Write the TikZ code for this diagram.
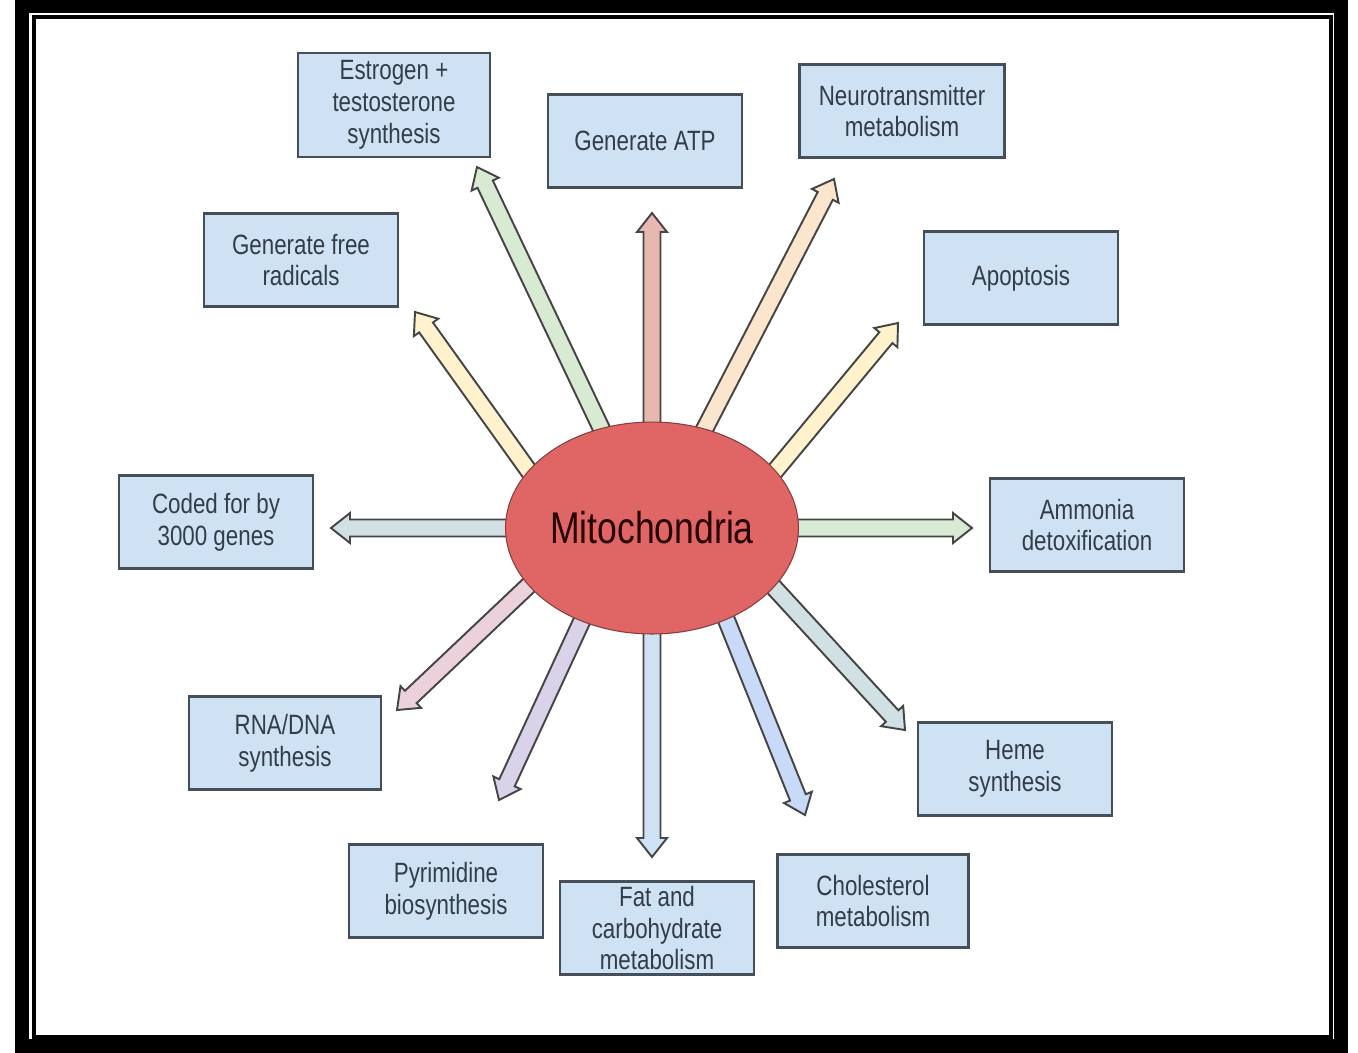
\documentclass[tikz,border=0pt]{standalone}
\usepackage{fontspec}
\setmainfont{Liberation Sans}[FakeStretch=0.8]
\usepackage{tikz}
\usetikzlibrary{shapes.geometric, calc, backgrounds}
\definecolor{boxfill}{HTML}{CFE2F3}
\definecolor{boxline}{HTML}{454F59}
\definecolor{boxtext}{HTML}{333D48}
\definecolor{corered}{HTML}{E06666}
\definecolor{arrowline}{HTML}{454545}
\definecolor{arRed}{HTML}{E6B8AF}
\definecolor{arGreen}{HTML}{D9EAD3}
\definecolor{arOrange}{HTML}{FCE5CD}
\definecolor{arYellow}{HTML}{FFF2CC}
\definecolor{arCyan}{HTML}{D0E0E3}
\definecolor{arPink}{HTML}{EAD1DC}
\definecolor{arPurple}{HTML}{D9D2E9}
\definecolor{arBlue}{HTML}{CFE2F3}
\definecolor{arCorn}{HTML}{C9DAF8}
\tikzset{
    func/.style={rectangle, draw=boxline, line width=1.6pt, fill=boxfill, text=boxtext, align=center, inner sep=0pt, minimum width=3.88cm, minimum height=1.86cm, font=\fontsize{15.9}{18.1}\selectfont},
    core/.style={ellipse, draw=corered!60!black, line width=0.6pt, fill=corered, text=black!85!red, inner sep=0pt, minimum width=5.86cm, minimum height=4.24cm, font=\fontsize{25.3}{30}\selectfont},
    blockarrow/.style={draw=arrowline, line width=1.1pt, line join=miter},
    frame/.style={draw=black}
}
% hollow block arrow: fill colour, from, to
\newcommand{\blockarrow}[3]{%
    \coordinate (ba) at ($(#2)!-0.24cm!(#3)$);
    \coordinate (hb) at ($(#3)!0.38cm!(#2)$);
    \draw[blockarrow, fill=#1] ($(ba)!0.17cm!90:(#3)$) -- ($(hb)!0.17cm!90:(#3)$) -- ($(hb)!0.3cm!90:(#3)$) -- (#3) -- ($(hb)!0.3cm!-90:(#3)$) -- ($(hb)!0.17cm!-90:(#3)$) -- ($(ba)!0.17cm!-90:(#3)$) -- cycle;
}
\begin{document}
\begin{tikzpicture}[x=0.02cm, y=-0.02cm]
        \useasboundingbox (0,0) rectangle (1358,1052);
        % Frame
        \draw[frame, line width=0.27cm] (22,6) rectangle (1341,1046);
        \draw[frame, line width=0.07cm] (34,17) rectangle (1331,1037);

        \node (mito) [core] at (652,528) {Mitochondria};

        % Function boxes
        \node (estro) [func, minimum width=3.84cm, minimum height=2.08cm] at (394,105) {Estrogen +\\testosterone\\synthesis};
        \node (atp) [func] at (645,141) {Generate ATP};
        \node (neuro) [func, minimum width=4.1cm] at (902,111) {Neurotransmitter\\metabolism};
        \node (radic) [func] at (301,260) {Generate free\\radicals};
        \node (apop) [func] at (1021,278) {Apoptosis};
        \node (coded) [func] at (216,522) {Coded for by\\3000 genes};
        \node (ammo) [func] at (1087,525) {Ammonia\\detoxification};
        \node (rna) [func, minimum width=3.84cm] at (285,743) {RNA/DNA\\synthesis};
        \node (heme) [func] at (1015,769) {Heme\\synthesis};
        \node (pyri) [func] at (446,891) {Pyrimidine\\biosynthesis};
        \node (fat) [func] at (657,928) {Fat and\\carbohydrate\\metabolism};
        \node (chol) [func, minimum width=3.82cm] at (873,901) {Cholesterol\\metabolism};

        % Arrow tips
        \coordinate (tAtp) at (652,213);
        \coordinate (tEstro) at (477,167);
        \coordinate (tNeuro) at (834,179);
        \coordinate (tRadic) at (415,312);
        \coordinate (tApop) at (898,323);
        \coordinate (tCoded) at (331,528);
        \coordinate (tAmmo) at (972,528);
        \coordinate (tRna) at (397,710);
        \coordinate (tHeme) at (905,730);
        \coordinate (tPyri) at (499,800);
        \coordinate (tFat) at (652,857);
        \coordinate (tChol) at (805,815);

        \begin{scope}[on background layer]
        \blockarrow{arRed}{mito.90}{tAtp}
        \blockarrow{arGreen}{mito.117}{tEstro}
        \blockarrow{arOrange}{mito.62}{tNeuro}
        \blockarrow{arYellow}{mito.155}{tRadic}
        \blockarrow{arYellow}{mito.25}{tApop}
        \blockarrow{arCyan}{mito.180}{tCoded}
        \blockarrow{arGreen}{mito.0}{tAmmo}
        \blockarrow{arPink}{mito.205}{tRna}
        \blockarrow{arCyan}{mito.334}{tHeme}
        \blockarrow{arPurple}{mito.233}{tPyri}
        \blockarrow{arBlue}{mito.270}{tFat}
        \blockarrow{arCorn}{mito.309}{tChol}
        \end{scope}
    \end{tikzpicture}
\end{document}
